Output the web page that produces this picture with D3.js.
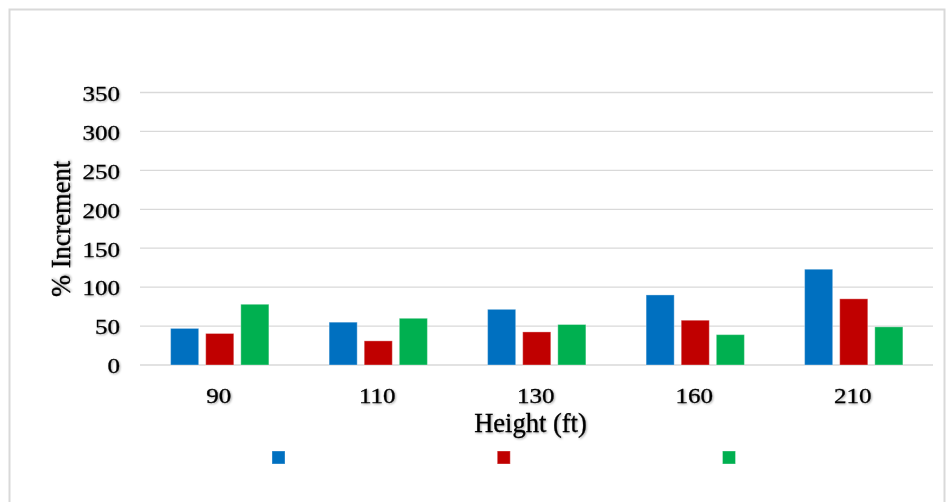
<!DOCTYPE html>
<html>
<head>
<meta charset="utf-8">
<script src="https://cdn.jsdelivr.net/npm/d3@7/dist/d3.min.js"></script>
<style>
  html, body { margin: 0; padding: 0; background: #fff; }
  svg { display: block; }
  text { font-family: "Liberation Serif", "Times New Roman", serif; fill: #000; stroke: #000; stroke-width: 0.3; }
</style>
</head>
<body>
<svg id="chart" width="949" height="502"></svg>
<script>
// Building heights on the x axis
const heights = ["90", "110", "130", "160", "210"];
// % increment per height, one array per series
const seriesBlue  = [47, 55, 71.5, 90, 123];
const seriesRed   = [40.5, 31, 42.5, 57.5, 85];
const seriesGreen = [78, 60, 52, 39, 49];
// Value axis ticks
const yTicks = [0, 50, 100, 150, 200, 250, 300, 350];

const seriesList = [
  { key: "blue",  values: seriesBlue,  color: "#0070C0" },
  { key: "red",   values: seriesRed,   color: "#C00000" },
  { key: "green", values: seriesGreen, color: "#00B050" }
];

const svg = d3.select("#chart");

// soft shadow under the text
const defs = svg.append("defs");
const f = defs.append("filter").attr("id", "soft").attr("x", "-10%").attr("y", "-20%").attr("width", "130%").attr("height", "150%");
f.append("feDropShadow").attr("dx", 1).attr("dy", 1).attr("stdDeviation", 0.9)
  .attr("flood-color", "#000").attr("flood-opacity", 0.35);

// outer frame
svg.append("rect")
  .attr("x", 9.5).attr("y", 9.5).attr("width", 935).attr("height", 510)
  .attr("fill", "none").attr("stroke", "#d9d9d9").attr("stroke-width", 2);

const plotLeft = 140, plotRight = 933;
const y = d3.scaleLinear().domain([0, 350]).range([365, 92.5]);
const x0 = d3.scaleBand().domain(heights).range([140.5, 933]).paddingInner(0.38).paddingOuter(0.19);
const x1 = d3.scaleBand().domain(seriesList.map(s => s.key)).range([0, x0.bandwidth()]).paddingInner(0.2);

// horizontal gridlines
svg.append("g").selectAll("line").data(yTicks).join("line")
  .attr("x1", plotLeft).attr("x2", plotRight)
  .attr("y1", d => y(d)).attr("y2", d => y(d))
  .attr("stroke", "#d9d9d9").attr("stroke-width", 1.3);

// y tick labels (slightly widened serif digits)
const yLab = svg.append("g").attr("filter", "url(#soft)");
yLab.selectAll("g").data(yTicks).join("g")
  .attr("transform", d => `translate(120, ${y(d) + 8.3}) scale(1.22,1)`)
  .append("text")
  .attr("text-anchor", "end")
  .attr("font-size", 20.5)
  .text(d => d);

// bars
const groups = svg.append("g").selectAll("g").data(heights).join("g")
  .attr("transform", d => `translate(${x0(d)},0)`);
groups.selectAll("rect")
  .data((d, i) => seriesList.map(s => ({ key: s.key, color: s.color, value: s.values[i] })))
  .join("rect")
  .attr("x", d => x1(d.key))
  .attr("width", x1.bandwidth())
  .attr("y", d => y(d.value))
  .attr("height", d => y(0) - y(d.value))
  .attr("fill", d => d.color)
  .attr("stroke", "rgba(255,255,255,0.35)")
  .attr("stroke-width", 1);

// x tick labels
const xLab = svg.append("g").attr("filter", "url(#soft)");
xLab.selectAll("g").data(heights).join("g")
  .attr("transform", d => `translate(${x0(d) + x0.bandwidth() / 2 - 1}, 403) scale(1.22,1)`)
  .append("text")
  .attr("text-anchor", "middle")
  .attr("font-size", 20.5)
  .text(d => d);

// axis titles
svg.append("text")
  .attr("filter", "url(#soft)")
  .attr("x", 530.5).attr("y", 431.5)
  .attr("text-anchor", "middle")
  .attr("font-size", 26.5)
  .text("Height (ft)");

svg.append("text")
  .attr("filter", "url(#soft)")
  .attr("transform", "translate(70, 229) rotate(-90)")
  .attr("text-anchor", "middle")
  .attr("font-size", 26.5)
  .text("% Increment");

// legend markers
const legendX = d3.scalePoint().domain(seriesList.map(s => s.key)).range([272, 722.5]);
svg.append("g").selectAll("rect").data(seriesList).join("rect")
  .attr("x", d => legendX(d.key)).attr("y", 451)
  .attr("width", 13).attr("height", 13)
  .attr("fill", d => d.color)
  .attr("stroke", "rgba(255,255,255,0.35)").attr("stroke-width", 1);
</script>
</body>
</html>
